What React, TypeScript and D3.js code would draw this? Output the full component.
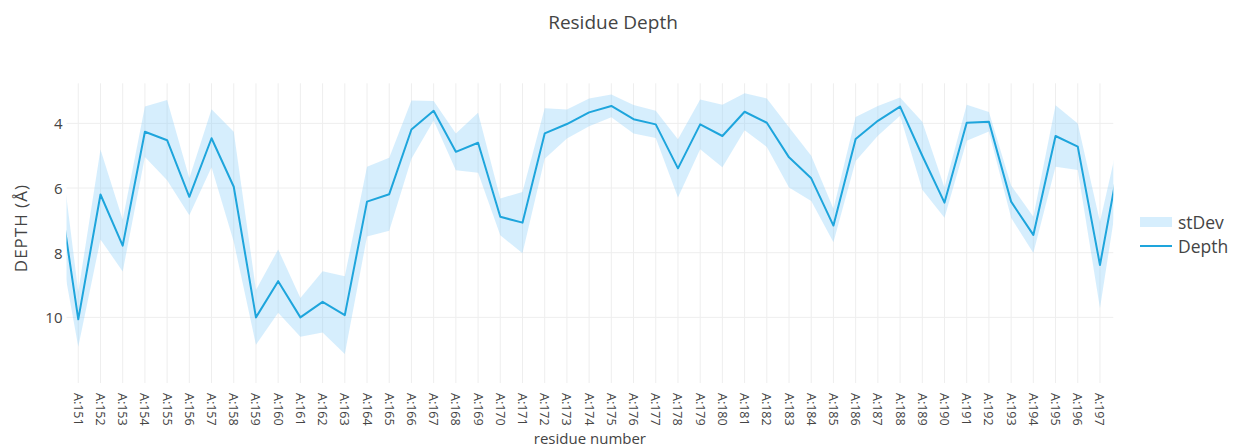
import * as d3 from 'd3';

const width = 1241;
const height = 448;
const plotLeft = 66.5;
const plotRight = 1113.3;
const plotTop = 83.3;
const plotBottom = 383;

// residues A:150 .. A:198 (first and last fall partly outside the visible range)
const firstResidue = 150;
const depth = [
  5.42, 10.06, 6.2, 7.78, 4.26, 4.52, 6.27, 4.46, 5.96, 10.0,
  8.88, 10.0, 9.52, 9.93, 6.42, 6.19, 4.19, 3.61, 4.88, 4.6,
  6.89, 7.07, 4.31, 4.02, 3.66, 3.46, 3.87, 4.03, 5.39, 4.03,
  4.39, 3.64, 3.98, 5.05, 5.7, 7.16, 4.48, 3.92, 3.48, 5.0,
  6.45, 3.98, 3.95, 6.42, 7.45, 4.39, 4.72, 8.38, 4.66,
];
const stDev = [
  1.7, 0.85, 1.39, 0.8, 0.78, 1.24, 0.57, 0.9, 1.7, 0.85,
  0.98, 0.6, 0.95, 1.2, 1.08, 1.13, 0.9, 0.3, 0.57, 0.93,
  0.57, 0.95, 0.78, 0.45, 0.43, 0.35, 0.44, 0.42, 0.9, 0.77,
  0.97, 0.57, 0.75, 0.93, 0.7, 0.52, 0.68, 0.46, 0.28, 1.05,
  0.47, 0.56, 0.3, 0.5, 0.56, 0.95, 0.72, 1.34, 0.64,
];
const labels = depth.map((_, i) => `A:${firstResidue + i}`);
const yTicks = [4, 6, 8, 10];

const lineColor = 'rgb(30,165,220)';
const bandColor = 'rgba(135,206,250,0.34)';
const textColor = '#444';
const font = '"Open Sans", sans-serif';

export default function App() {
  const x = d3.scaleLinear().domain([0.47, 47.6]).range([plotLeft, plotRight]);
  // reversed: small depth at the top
  const y = d3.scaleLinear().domain([2.76, 12.03]).range([plotTop, plotBottom]);

  const idx = d3.range(depth.length);
  const visibleTicks = idx.filter((i) => x(i) >= plotLeft && x(i) <= plotRight);

  const area = d3
    .area<number>()
    .x((i) => x(i))
    .y0((i) => y(depth[i] - stDev[i]))
    .y1((i) => y(depth[i] + stDev[i]));

  const line = d3
    .line<number>()
    .x((i) => x(i))
    .y((i) => y(depth[i]));

  return (
    <svg
      width={width}
      height={height}
      style={{ position: 'absolute', left: 0, top: 0, background: '#fff' }}
      fontFamily={font}
    >
      <defs>
        <clipPath id="plot-clip">
          <rect x={plotLeft} y={plotTop} width={plotRight - plotLeft} height={plotBottom - plotTop} />
        </clipPath>
      </defs>

      {/* grid */}
      <g stroke="#eee" strokeWidth={1}>
        {visibleTicks.map((i) => (
          <line key={i} x1={x(i)} x2={x(i)} y1={plotTop} y2={plotBottom} />
        ))}
        {yTicks.map((t) => (
          <line key={t} x1={plotLeft} x2={plotRight} y1={y(t)} y2={y(t)} />
        ))}
      </g>

      <g clipPath="url(#plot-clip)">
        <path d={area(idx) ?? ''} fill={bandColor} stroke="none" />
        <path d={line(idx) ?? ''} fill="none" stroke={lineColor} strokeWidth={2} strokeLinejoin="round" />
      </g>

      {/* y axis */}
      <g fill={textColor} fontSize={15}>
        {yTicks.map((t) => (
          <text key={t} x={plotLeft - 4} y={y(t)} textAnchor="end" dominantBaseline="central">
            {t}
          </text>
        ))}
      </g>
      <text
        transform={`translate(20,${(plotTop + plotBottom) / 2 - 5}) rotate(-90)`}
        textAnchor="middle"
        dominantBaseline="central"
        fill={textColor}
        fontSize={17}
        letterSpacing={1}
      >
        DEPTH (Å)
      </text>

      {/* x axis */}
      <g fill={textColor} fontSize={12.5}>
        {visibleTicks.map((i) => (
          <text
            key={i}
            transform={`translate(${x(i)},${plotBottom + 10}) rotate(90)`}
            textAnchor="start"
            dominantBaseline="central"
          >
            {labels[i]}
          </text>
        ))}
      </g>
      <text x={(plotLeft + plotRight) / 2} y={444} textAnchor="middle" fill={textColor} fontSize={15}>
        residue number
      </text>

      {/* title */}
      <text x={613} y={29} textAnchor="middle" fill={textColor} fontSize={19}>
        Residue Depth
      </text>

      {/* legend */}
      <rect x={1140} y={217} width={32} height={10} fill={bandColor} />
      <text x={1178} y={222} dominantBaseline="central" fill={textColor} fontSize={17.5}>
        stDev
      </text>
      <line x1={1140} x2={1172} y1={246} y2={246} stroke={lineColor} strokeWidth={2} />
      <text x={1178} y={246} dominantBaseline="central" fill={textColor} fontSize={17.5}>
        Depth
      </text>
    </svg>
  );
}
